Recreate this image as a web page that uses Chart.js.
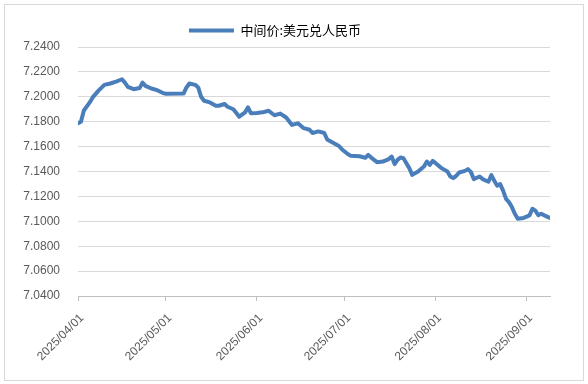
<!DOCTYPE html>
<html>
<head>
<meta charset="utf-8">
<script src="https://cdn.jsdelivr.net/npm/chart.js@4.4.1/dist/chart.umd.min.js"></script>
<style>
  html, body { margin: 0; padding: 0; background: #fff; }
</style>
</head>
<body>
<canvas id="rateChart" width="588" height="384"></canvas>
<script>
const seriesName = '中间价:美元兑人民币';

const dates = [
  '2025/04/01', '2025/04/02', '2025/04/03', '2025/04/05', '2025/04/06', '2025/04/08', '2025/04/10', '2025/04/12',
  '2025/04/14', '2025/04/16', '2025/04/17', '2025/04/18', '2025/04/20', '2025/04/22', '2025/04/23', '2025/04/24',
  '2025/04/26', '2025/04/28', '2025/04/30', '2025/05/01', '2025/05/07', '2025/05/08', '2025/05/09', '2025/05/11',
  '2025/05/12', '2025/05/13', '2025/05/14', '2025/05/16', '2025/05/18', '2025/05/19', '2025/05/21', '2025/05/22',
  '2025/05/24', '2025/05/26', '2025/05/28', '2025/05/29', '2025/05/30', '2025/06/01', '2025/06/03', '2025/06/05',
  '2025/06/06', '2025/06/07', '2025/06/09', '2025/06/11', '2025/06/13', '2025/06/15', '2025/06/17', '2025/06/19',
  '2025/06/20', '2025/06/22', '2025/06/24', '2025/06/25', '2025/06/27', '2025/06/29', '2025/06/30', '2025/07/02',
  '2025/07/03', '2025/07/06', '2025/07/08', '2025/07/09', '2025/07/10', '2025/07/12', '2025/07/14', '2025/07/16',
  '2025/07/17', '2025/07/18', '2025/07/19', '2025/07/20', '2025/07/21', '2025/07/23', '2025/07/24', '2025/07/26',
  '2025/07/28', '2025/07/29', '2025/07/30', '2025/07/31', '2025/08/01', '2025/08/03', '2025/08/05', '2025/08/06',
  '2025/08/07', '2025/08/08', '2025/08/09', '2025/08/11', '2025/08/12', '2025/08/13', '2025/08/14', '2025/08/16',
  '2025/08/17', '2025/08/19', '2025/08/20', '2025/08/21', '2025/08/22', '2025/08/23', '2025/08/24', '2025/08/25',
  '2025/08/26', '2025/08/27', '2025/08/28', '2025/08/29', '2025/08/31', '2025/09/02', '2025/09/03', '2025/09/04',
  '2025/09/05', '2025/09/06', '2025/09/07', '2025/09/09'
];

const rates = [
  7.1787, 7.1800, 7.1890, 7.1955, 7.1995, 7.2050, 7.2096, 7.2107,
  7.2122, 7.2141, 7.2114, 7.2080, 7.2061, 7.2070, 7.2114, 7.2088,
  7.2067, 7.2053, 7.2030, 7.2024, 7.2026, 7.2075, 7.2107, 7.2096,
  7.2075, 7.2000, 7.1968, 7.1955, 7.1928, 7.1928, 7.1942, 7.1920,
  7.1900, 7.1840, 7.1875, 7.1915, 7.1867, 7.1870, 7.1875, 7.1888,
  7.1870, 7.1852, 7.1865, 7.1834, 7.1774, 7.1787, 7.1748, 7.1735,
  7.1709, 7.1722, 7.1709, 7.1657, 7.1631, 7.1605, 7.1579, 7.1540,
  7.1527, 7.1522, 7.1510, 7.1533, 7.1512, 7.1475, 7.1480, 7.1500,
  7.1520, 7.1459, 7.1493, 7.1512, 7.1507, 7.1427, 7.1373, 7.1400,
  7.1440, 7.1480, 7.1453, 7.1485, 7.1467, 7.1427, 7.1400, 7.1360,
  7.1347, 7.1365, 7.1392, 7.1405, 7.1419, 7.1397, 7.1339, 7.1360,
  7.1339, 7.1318, 7.1371, 7.1326, 7.1286, 7.1299, 7.1246, 7.1180,
  7.1154, 7.1114, 7.1061, 7.1021, 7.1027, 7.1048, 7.1101, 7.1085,
  7.1050, 7.1061, 7.1048, 7.1027
];

const monthTicks = ['2025/04/01', '2025/05/01', '2025/06/01', '2025/07/01', '2025/08/01', '2025/09/01'];
const yTicks = [7.04, 7.06, 7.08, 7.10, 7.12, 7.14, 7.16, 7.18, 7.20, 7.22, 7.24];

const lineColor = '#4a7ebb';
const textColor = '#595959';

// days since the first date, so the x axis behaves like a date axis
function dayOffset(s) {
  const p = s.split('/').map(Number);
  return (Date.UTC(p[0], p[1] - 1, p[2]) - Date.UTC(2025, 3, 1)) / 86400000;
}

const points = dates.map((d, i) => ({ x: dayOffset(d), y: rates[i] }));

const frame = {
  id: 'frame',
  beforeDraw(chart) {
    const c = chart.ctx;
    c.save();
    c.fillStyle = '#ffffff';
    c.fillRect(0, 0, chart.width, chart.height);
    c.strokeStyle = '#d9d9d9';
    c.lineWidth = 1;
    c.strokeRect(4.5, 4.5, 579, 376);
    c.restore();
  }
};

const ctx = document.getElementById('rateChart').getContext('2d');

new Chart(ctx, {
  type: 'line',
  data: {
    datasets: [{
      label: seriesName,
      data: points,
      borderColor: lineColor,
      backgroundColor: lineColor,
      borderWidth: 4,
      borderJoinStyle: 'round',
      borderCapStyle: 'round',
      pointRadius: 0,
      tension: 0
    }]
  },
  options: {
    responsive: false,
    animation: false,
    devicePixelRatio: 1,
    layout: { padding: { top: 16, right: 38, bottom: 0, left: 0 } },
    plugins: {
      tooltip: { enabled: false },
      legend: {
        position: 'top',
        labels: {
          boxWidth: 45,
          boxHeight: 4,
          padding: 8,
          color: textColor,
          font: { family: '"Noto Sans CJK SC", "Noto Sans", sans-serif', size: 13 },
          generateLabels: () => [{
            text: seriesName,
            fillStyle: lineColor,
            strokeStyle: lineColor,
            lineWidth: 0,
            hidden: false,
            datasetIndex: 0
          }]
        }
      }
    },
    scales: {
      x: {
        type: 'linear',
        min: 0,
        max: dayOffset(dates[dates.length - 1]),
        afterBuildTicks: (scale) => {
          scale.ticks = monthTicks.map(m => ({ value: dayOffset(m) }));
        },
        afterFit: (scale) => { scale.height = 88; },
        ticks: {
          autoSkip: false,
          minRotation: 45,
          maxRotation: 45,
          padding: 10,
          labelOffset: 4,
          color: textColor,
          font: { family: '"Liberation Sans", Arial, sans-serif', size: 12 },
          callback: (v) => {
            const m = monthTicks.find(t => dayOffset(t) === v);
            return m || '';
          }
        },
        grid: {
          drawOnChartArea: false,
          drawTicks: true,
          tickLength: 5,
          color: '#bfbfbf'
        },
        border: { display: true, color: '#bfbfbf' }
      },
      y: {
        min: 7.04,
        max: 7.24,
        afterBuildTicks: (scale) => {
          scale.ticks = yTicks.map(v => ({ value: v }));
        },
        afterFit: (scale) => { scale.width = 78; },
        ticks: {
          padding: 18,
          color: textColor,
          font: { family: '"Liberation Sans", Arial, sans-serif', size: 12 },
          callback: (v) => Number(v).toFixed(4)
        },
        grid: { color: '#d9d9d9', drawTicks: false },
        border: { display: false }
      }
    }
  },
  plugins: [frame]
});
</script>
</body>
</html>
